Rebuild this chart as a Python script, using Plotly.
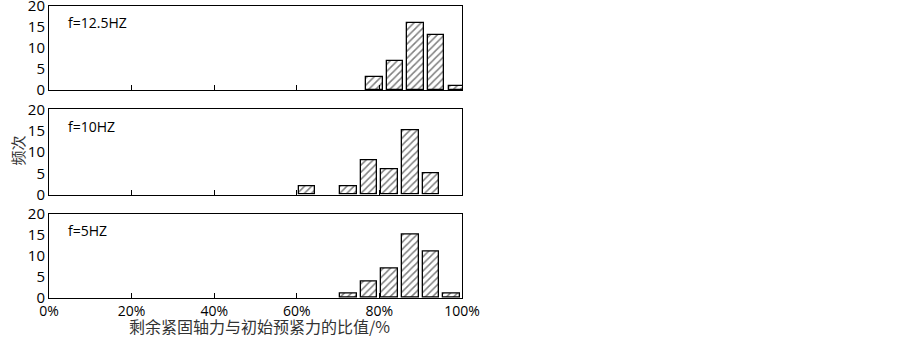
import plotly.graph_objects as go

# Data
x_top = [78.75, 83.75, 88.75, 93.75, 98.75]
y_top = [3, 7, 16, 13, 1]
x_mid = [62.5, 72.5, 77.5, 82.5, 87.5, 92.5]
y_mid = [2, 2, 8, 6, 15, 5]
x_bot = [72.5, 77.5, 82.5, 87.5, 92.5, 97.5]
y_bot = [1, 4, 7, 15, 11, 1]
labels = ["f=12.5HZ", "f=10HZ", "f=5HZ"]
x_ticks = [0, 20, 40, 60, 80, 100]
x_ticktext = ["0%", "20%", "40%", "60%", "80%", "100%"]
y_ticks = [0, 5, 10, 15, 20]

fig = go.Figure()

bar_style = dict(
    width=4,
    marker=dict(color="white", line=dict(color="black", width=1.3),
                pattern=dict(shape="/", fgcolor="black", bgcolor="white", size=5, solidity=0.3)),
    showlegend=False,
)

fig.add_trace(go.Bar(x=x_top, y=y_top, xaxis="x", yaxis="y", **bar_style))
fig.add_trace(go.Bar(x=x_mid, y=y_mid, xaxis="x2", yaxis="y2", **bar_style))
fig.add_trace(go.Bar(x=x_bot, y=y_bot, xaxis="x3", yaxis="y3", **bar_style))

font = dict(family="Open Sans, Liberation Sans, sans-serif", size=14, color="black")

xbase = dict(range=[0, 100], tickvals=x_ticks, ticktext=x_ticktext, ticks="inside", ticklen=5,
             tickcolor="black", showline=True, linecolor="black", linewidth=1, mirror=True,
             showgrid=False, zeroline=False, tickfont=font, automargin=False,
             ticklabeloverflow="allow")
ybase = dict(range=[0, 20], tickvals=y_ticks, ticks="", showline=True, linecolor="black",
             linewidth=1, mirror=True, showgrid=False, zeroline=False,
             tickfont=dict(font, size=15), automargin=False, ticklabeloverflow="allow")

layout = dict(
    width=903, height=340,
    margin=dict(l=49, r=441, t=6, b=42),
    plot_bgcolor="white", paper_bgcolor="white",
    bargap=0,
    xaxis=dict(xbase, anchor="y", showticklabels=False),
    yaxis=dict(ybase, domain=[0.712, 1.0], anchor="x"),
    xaxis2=dict(xbase, anchor="y2", showticklabels=False),
    yaxis2=dict(ybase, domain=[0.354, 0.646], anchor="x2"),
    xaxis3=dict(xbase, anchor="y3"),
    yaxis3=dict(ybase, domain=[0.0, 0.289], anchor="x3"),
)
fig.update_layout(**layout)

for lab, xr, yr in zip(labels, ["x", "x2", "x3"], ["y", "y2", "y3"]):
    fig.add_annotation(text=lab, xref=xr, yref=yr,
                       x=4, y=16, xanchor="left", yanchor="middle", showarrow=False,
                       font=dict(family="Open Sans, Liberation Sans, sans-serif", size=14, color="black"))

# axis titles
fig.add_annotation(text="剩余紧固轴力与初始预紧力的比值/%", xref="x3", yref="paper",
                   x=51, y=-0.097, xanchor="center", yanchor="middle", showarrow=False,
                   font=dict(family="Noto Sans CJK SC", size=16, color="#333"))
fig.add_annotation(text="频次", xref="paper", yref="paper", x=-0.075, y=0.505, textangle=-90,
                   xanchor="center", yanchor="middle", showarrow=False,
                   font=dict(family="Noto Sans CJK SC", size=15, color="#333"))

fig.write_html("out.html", config={"displayModeBar": False},
               post_script="document.body.style.margin='0';")
